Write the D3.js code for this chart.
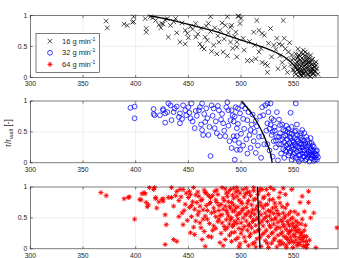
<!DOCTYPE html>
<html>
<head>
<meta charset="utf-8">
<script src="https://cdn.jsdelivr.net/npm/d3@7"></script>
<style>
  body { margin: 0; background: #fff; }
  text { font-family: "Liberation Sans", Arial, sans-serif; fill: #262626; }
</style>
</head>
<body>
<div id="chart"></div>
<script>
// axis settings
var xTicks = [300, 350, 400, 450, 500, 550];
var yTicks = [0, 0.5, 1];
var yTickLabels = ["0", "0.5", "1"];
var legendLabels = ["16 g min", "32 g min", "64 g min"];

// scatter points [x, r/rwall]
var pts16 = [[372,0.91],[373,0.8],[389,0.86],[392,0.84],[397,0.89],[398,0.98],[398,0.9],[409,0.95],[410,0.79],[410,0.73],[414,0.98],[416,0.96],[419,0.92],[422,0.85],[424,0.8],[425,0.87],[426,0.86],[428,0.93],[430,0.95],[431,0.65],[433,0.84],[436,0.9],[438,0.95],[439,0.72],[442,0.57],[444,0.88],[447,0.54],[447,0.76],[449,0.71],[450,0.64],[452,0.82],[454,0.78],[457,0.87],[457,0.65],[459,0.7],[461,0.54],[462,0.79],[463,0.49],[465,0.46],[466,0.65],[467,0.83],[468,0.6],[469,0.87],[471,0.98],[471,0.74],[472,0.42],[474,0.52],[475,0.8],[477,0.38],[478,0.67],[479,0.57],[480,0.76],[482,0.88],[483,0.41],[484,0.62],[485,0.84],[487,0.98],[487,0.35],[488,0.72],[490,0.81],[490,0.57],[491,0.84],[492,0.47],[494,0.66],[495,0.73],[496,0.49],[496,0.57],[496,0.33],[497,0.99],[498,0.99],[499,0.87],[500,0.95],[502,0.63],[503,0.44],[506,0.27],[508,0.58],[510,0.27],[512,0.73],[513,0.52],[514,0.3],[515,0.92],[517,0.76],[517,0.41],[519,0.47],[520,0.71],[520,0.24],[522,0.68],[523,0.22],[525,0.19],[525,0.08],[526,0.55],[528,0.79],[529,0.33],[531,0.52],[533,0.45],[534,0.63],[535,0.14],[536,0.54],[537,0.35],[539,0.52],[539,0.24],[540,0.92],[541,0.63],[541,0.16],[542,0.46],[543,0.3],[544,0.08],[545,0.41],[546,0.56],[547,0.2],[548,0.36],[549,0.12],
  [550,0.3],[551,0.18],[552,0.05],[552,0.38],[553,0.25],[553,0.12],[554,0.33],[554,0.02],[555,0.2],[555,0.08],[556,0.28],[556,0.15],[557,0.4],[557,0.04],[558,0.22],[558,0.11],[558,0.31],[559,0.17],[559,0.06],[560,0.26],[560,0.13],[560,0.35],[561,0.02],[561,0.2],[562,0.09],[562,0.29],[562,0.15],[563,0.23],[563,0.05],[564,0.12],[564,0.32],[565,0.18],[565,0.08],[566,0.25],[566,0.01],[567,0.14],[567,0.21],[568,0.06],[568,0.29],[569,0.11],[569,0.17],[570,0.03],[570,0.22],[571,0.09],[572,0.14],[573,0.05],[563,0.38],[559,0.44],[566,0.36],[554,0.46],[561,0.27],[557,0.18],[555,0.36],[564,0.24],[567,0.1],[560,0.07],[556,0.1],[553,0.19],[551,0.08],[570,0.16],[571,0.25],[565,0.3],[558,0.02],[562,0.21],[568,0.2],
  [552,0.22],[553,0.31],[555,0.14],[556,0.34],[557,0.26],[558,0.08],[559,0.24],[560,0.18],[561,0.1],[562,0.33],[563,0.16],[564,0.04],[565,0.23],[566,0.13],[567,0.28],[568,0.14],[569,0.06],[570,0.1],[559,0.38],[561,0.41],[557,0.1],[563,0.28],[565,0.02],[566,0.08],[571,0.19],[554,0.26],[550,0.12],[548,0.28]];

var pts32 = [[395,0.89],[399,0.91],[399,0.72],[417,0.87],[417,0.79],[418,0.77],[423,0.77],[426,0.87],[426,0.85],[428,0.8],[428,0.65],[430,0.82],[431,0.96],[433,0.93],[434,0.69],[436,0.82],[437,0.88],[439,0.91],[441,0.74],[442,0.64],[442,0.8],[444,0.71],[445,0.93],[447,0.85],[448,0.77],[450,0.9],[451,0.81],[452,0.72],[453,0.96],[454,0.67],[456,0.56],[457,0.84],[458,0.76],[460,0.85],[461,0.9],[462,0.62],[463,0.96],[463,0.53],[464,0.45],[465,0.79],[466,0.66],[467,0.88],[468,0.72],[469,0.45],[470,0.58],[471,0.11],[472,0.93],[473,0.76],[474,0.88],[475,0.56],[476,0.67],[477,0.48],[478,0.92],[479,0.85],[480,0.43],[481,0.7],[482,0.79],[483,0.64],[484,0.52],[485,0.43],[486,0.9],[487,0.98],[488,0.85],[488,0.6],[489,0.35],[490,0.69],[491,0.24],[491,0.85],[492,0.77],[493,0.43],[493,0.67],[494,0.37],[494,0.75],[494,0.05],[495,0.9],[496,0.56],[496,0.21],[496,0.43],[497,0.88],[497,0.63],[498,0.32],[499,0.21],[499,0.8],[500,0.47],[501,0.92],[502,0.71],[502,0.28],[503,0.55],[504,0.88],[505,0.38],[506,0.69],[506,0.15],[507,0.82],[508,0.45],[509,0.53],[509,0.24],[510,0.62],[511,0.78],[512,0.35],[513,0.5],[514,0.16],[514,0.68],[515,0.59],[516,0.28],[517,0.42],[518,0.75],[519,0.08],[520,0.43],[520,0.9],[521,0.77],[522,0.3],[523,0.93],[524,0.52],[525,0.64],[525,0.96],[526,0.82],[527,0.2],[528,0.96],[529,0.72],[529,0.45],[530,0.1],[531,0.69],[531,0.35],[532,0.52],[533,0.25],[534,0.82],[534,0.42],[535,0.04],[536,0.3],[537,0.61],[537,0.48],[538,0.15],[539,0.38],[540,0.22],[540,0.53],[541,0.33],[541,0.08],[542,0.44],[543,0.18],[543,0.28],[544,0.5],[544,0.38],[545,0.12],[545,0.24],[546,0.42],[546,0.32],[547,0.81],[547,0.19],[548,0.05],[548,0.47],[549,0.28],[549,0.36],[550,0.14],[550,0.22],[551,0.4],[551,0.3],[552,0.96],[552,0.08],[553,0.18],[553,0.45],[554,0.26],[554,0.35],[555,0.12],[555,0.02],[556,0.32],[556,0.2],[557,0.4],[557,0.06],[558,0.53],[558,0.25],[558,0.15],[559,0.3],[559,0.1],[560,0.2],[560,0.36],[561,0.04],[561,0.27],[562,0.14],[562,0.22],[563,0.37],[563,0.09],[564,0.18],[564,0.28],[565,0.02],[565,0.12],[566,0.24],[566,0.16],[567,0.32],[567,0.07],[568,0.2],[568,0.11],[569,0.26],[569,0.03],[570,0.15],[570,0.09],[571,0.19],[572,0.13],[572,0.05],[573,0.09],[539,0.62],[536,0.7],[543,0.6],[548,0.58],[553,0.62],[560,0.48],[545,0.55],[551,0.5],[556,0.44],[562,0.42],[566,0.4],[532,0.58],[528,0.62],[525,0.3],[527,0.55],
  [538,0.3],[540,0.42],[542,0.2],[544,0.3],[546,0.16],[547,0.4],[548,0.24],[549,0.1],[550,0.33],[551,0.16],[552,0.27],[553,0.38],[554,0.06],[555,0.24],[556,0.13],[557,0.3],[558,0.36],[559,0.2],[560,0.1],[561,0.32],[562,0.06],[563,0.26],[564,0.14],[565,0.32],[566,0.2],[567,0.12],[568,0.28],[569,0.18],[570,0.05],[571,0.12],[572,0.2],[546,0.48],[552,0.52],[557,0.48],[542,0.52],[536,0.42],[533,0.36],[530,0.5]];

var pts64 = [[367,0.91],[372,0.86],[389,0.81],[393,0.83],[394,0.84],[399,0.48],[404,0.8],[405,0.79],[406,0.89],[408,0.91],[409,0.89],[410,0.75],[411,0.68],[412,0.71],[413,0.99],[417,0.96],[418,0.99],[419,0.81],[419,0.83],[420,0.66],[422,0.76],[425,0.8],[426,0.81],[426,0.77],[428,0.55],[428,0.07],[429,0.39],[431,0.83],[434,0.99],[434,0.83],[436,0.69],[436,0.15],[438,0.86],[439,0.93],[439,0.12],[441,0.78],[442,0.96],[444,0.58],[445,0.96],[445,0.39],[447,0.72],[448,0.9],[450,0.83],[451,0.67],[452,0.26],[452,0.88],[453,0.52],[454,0.76],[455,0.99],[456,0.23],[456,0.64],[457,0.45],[458,0.75],[459,0.92],[460,0.85],[460,0.6],[461,0.69],[462,0.34],[463,0.15],[463,0.8],[464,0.48],[465,0.95],[466,0.53],[466,0.91],[467,0.7],[468,0.62],[469,0.2],[469,0.86],[470,0.41],[471,0.83],[471,0.75],[472,0.58],[473,0.3],[474,0.37],[474,0.66],[475,0.93],[476,0.79],[476,0.52],[477,0.75],[478,0.88],[478,0.44],[479,0.48],[479,0.62],[480,0.1],[481,0.72],[482,0.99],[482,0.55],[483,0.64],[483,0.82],[484,0.36],[485,0.31],[485,0.69],[486,0.9],[486,0.47],[487,0.85],[487,0.58],[488,0.53],[488,0.76],[489,0.4],[489,0.22],[490,0.96],[490,0.66],[491,0.75],[491,0.26],[491,0.5],[492,0.87],[492,0.61],[493,0.39],[493,0.71],[494,0.61],[494,0.44],[495,0.92],[495,0.15],[496,0.85],[496,0.54],[496,0.99],[497,0.18],[497,0.48],[497,0.68],[498,0.33],[498,0.79],[499,0.58],[499,0.9],[500,0.42],[500,0.25],[501,0.73],[501,0.62],[502,0.96],[502,0.5],[503,0.36],[503,0.84],[504,0.56],[504,0.12],[505,0.67],[505,0.45],[506,0.91],[506,0.3],[507,0.78],[507,0.6],[508,0.4],[508,0.2],[509,0.86],[509,0.52],[510,0.71],[510,0.34],[511,0.63],[511,0.08],[512,0.94],[512,0.47],[513,0.56],[513,0.27],[514,0.81],[514,0.38],[515,0.69],[515,0.16],[516,0.5],[516,0.88],[517,0.6],[517,0.31],[518,0.75],[518,0.42],[519,0.04],[519,0.55],[520,0.96],[520,0.23],[521,0.66],[521,0.37],[522,0.84],[522,0.49],[523,0.58],[523,0.13],[524,0.96],[524,0.3],[525,0.72],[525,0.44],[526,0.62],[526,0.2],[527,0.53],[527,0.79],[528,0.99],[528,0.35],[529,0.47],[529,0.09],[530,0.66],[530,0.26],[531,0.57],[531,0.4],[532,0.74],[532,0.17],[533,0.5],[533,0.31],[534,0.62],[534,0.03],[535,0.43],[535,0.22],[536,0.83],[536,0.55],[537,0.91],[537,0.34],[538,0.47],[538,0.12],[539,0.68],[539,0.27],[540,0.58],[540,0.39],[541,0.2],[541,0.5],[542,0.88],[542,0.66],[543,0.31],[543,0.06],[544,0.44],[544,0.15],[545,0.56],[545,0.25],[546,0.37],[546,0.1],[547,0.48],[547,0.19],[548,0.96],[548,0.3],[549,0.41],[549,0.02],[550,0.1],[550,0.23],[551,0.6],[551,0.34],[552,0.14],[552,0.45],[553,0.37],[553,0.27],[554,0.56],[554,0.08],[555,0.18],[555,0.31],[556,0.07],[556,0.75],[557,0.22],[557,0.4],[558,0.26],[558,0.85],[559,0.18],[559,0.12],[560,0.3],[561,0.05],[562,0.2],[563,0.07],[564,0.93],[564,0.75],[565,0.14],[566,0.5],[569,0.58],[571,0.02],[591,0.34],
  [466,0.04],[483,0.05],[498,0.03],[507,0.05],[526,0.02],[543,0.02],[537,0.07],[514,0.03],[485,0.97],[493,0.98],[505,0.98],[512,0.99],[518,0.97],[531,0.96],[540,0.98],
  [441,0.52],[443,0.84],[446,0.62],[449,0.46],[451,0.93],[453,0.7],[455,0.35],[457,0.87],[459,0.55],[461,0.42],[462,0.78],[464,0.63],[465,0.28],[467,0.9],[468,0.48],[470,0.73],[472,0.19],[473,0.86],[475,0.6],[476,0.33],[477,0.95],[479,0.7],[480,0.54],[481,0.25],[482,0.42],[484,0.78],[485,0.15],[486,0.62],[487,0.34],[488,0.92],[489,0.68],[490,0.47],[491,0.12],[492,0.36],[493,0.82],[494,0.27],[495,0.66],[496,0.41],[497,0.94],[498,0.57],[499,0.08],[500,0.76],[501,0.31],[502,0.65],[503,0.19],[504,0.89],[505,0.55],[506,0.74],[507,0.38],[508,0.92],[509,0.24],[510,0.58],[511,0.44],[512,0.79],[513,0.1],[514,0.64],[515,0.48],[516,0.29],[517,0.93],[518,0.18],[519,0.7],[520,0.45],[521,0.82],[522,0.26],[523,0.71],[524,0.52],[525,0.09],[526,0.88],[527,0.38],[528,0.6],[529,0.25],[530,0.8],[531,0.14],[532,0.48],[533,0.68],[534,0.35],[535,0.57],[536,0.12],[537,0.74],[538,0.24],[539,0.44],[540,0.08],[541,0.36],[542,0.53],[543,0.18],[544,0.72],[545,0.4],[546,0.28],[547,0.6],[548,0.13],[549,0.5],[550,0.36],[551,0.2],[552,0.3],[553,0.05],[554,0.42],[555,0.1],[556,0.26],[557,0.15],[558,0.48],[559,0.04],[560,0.2],[561,0.38],[562,0.12],[560,0.6],[562,0.02]];

// model curves [x, r/rwall]
var curve16 = [[412,1],[433,0.93],[458,0.82],[480,0.72],[500,0.6],[515,0.52],[528,0.44],[538,0.36],[545,0.28],[550,0.2],[555,0.09],[557,0.03],[558,0]];
var curve32 = [[500.5,1],[510,0.8],[517,0.6],[520,0.5],[525,0.3],[528,0.15],[529.5,0]];
var curve64 = [[515.5,1],[518,0]];

var w = 339, h = 258;
var left = 30.3, right = 338;
var tops = [15.5, 101, 187];
var ph = 61.8;

var svg = d3.select("#chart")
            .append("svg")
            .attr("width", w)
            .attr("height", h);

var x = d3.scaleLinear().domain([300, 592]).range([left, right]);

function xMark(g, s, col) {
    g.append("path")
        .attr("d", "M" + (-s) + "," + (-s) + "L" + s + "," + s + "M" + (-s) + "," + s + "L" + s + "," + (-s))
        .attr("stroke", col).attr("stroke-width", 0.7).attr("fill", "none");
}
function oMark(g, s, col) {
    g.append("circle").attr("r", s)
        .attr("stroke", col).attr("stroke-width", 0.75).attr("fill", "none");
}
function starMark(g, s, col) {
    var d = s * 0.72;
    g.append("path")
        .attr("d", "M" + (-s) + ",0L" + s + ",0M0," + (-s) + "L0," + s +
                   "M" + (-d) + "," + (-d) + "L" + d + "," + d + "M" + (-d) + "," + d + "L" + d + "," + (-d))
        .attr("stroke", col).attr("stroke-width", 0.9).attr("fill", "none");
}

var panels = [
    { pts: pts16, curve: curve16, mark: xMark, col: "#000000", size: 2.3 },
    { pts: pts32, curve: curve32, mark: oMark, col: "#0000ff", size: 2.4 },
    { pts: pts64, curve: curve64, mark: starMark, col: "#ff0000", size: 2.5 }
];

panels.forEach(function(p, i) {
    var top = tops[i];
    var y = d3.scaleLinear().domain([0, 1]).range([top + ph, top]);
    var g = svg.append("g");

    // grid
    g.selectAll(".gx").data(xTicks.slice(1)).enter().append("line")
        .attr("x1", function(d) { return x(d); }).attr("x2", function(d) { return x(d); })
        .attr("y1", top).attr("y2", top + ph)
        .attr("stroke", "#e3e3e3").attr("stroke-width", 0.6);
    g.append("line")
        .attr("x1", left).attr("x2", right)
        .attr("y1", y(0.5)).attr("y2", y(0.5))
        .attr("stroke", "#e3e3e3").attr("stroke-width", 0.6);

    // points
    g.selectAll(".pt").data(p.pts).enter().append("g")
        .attr("transform", function(d) { return "translate(" + x(d[0]) + "," + y(d[1]) + ")"; })
        .each(function() { p.mark(d3.select(this), p.size, p.col); });

    // curve
    g.append("path")
        .datum(p.curve)
        .attr("d", d3.line()
            .x(function(d) { return x(d[0]); })
            .y(function(d) { return y(d[1]); })
            .curve(d3.curveCatmullRom))
        .attr("fill", "none")
        .attr("stroke", "#000")
        .attr("stroke-width", 1.3);

    // box
    g.append("rect")
        .attr("x", left).attr("y", top)
        .attr("width", right - left).attr("height", ph)
        .attr("fill", "none").attr("stroke", "#262626").attr("stroke-width", 0.6);

    // ticks
    g.selectAll(".tx").data(xTicks).enter().append("line")
        .attr("x1", function(d) { return x(d); }).attr("x2", function(d) { return x(d); })
        .attr("y1", top + ph).attr("y2", top + ph - 2.5)
        .attr("stroke", "#262626").attr("stroke-width", 0.6);
    g.selectAll(".tx2").data(xTicks).enter().append("line")
        .attr("x1", function(d) { return x(d); }).attr("x2", function(d) { return x(d); })
        .attr("y1", top).attr("y2", top + 2.5)
        .attr("stroke", "#262626").attr("stroke-width", 0.6);
    g.selectAll(".ty").data(yTicks).enter().append("line")
        .attr("x1", left).attr("x2", left + 2.5)
        .attr("y1", function(d) { return y(d); }).attr("y2", function(d) { return y(d); })
        .attr("stroke", "#262626").attr("stroke-width", 0.6);

    g.selectAll(".lx").data(xTicks).enter().append("text")
        .text(function(d) { return d; })
        .attr("x", function(d) { return x(d); })
        .attr("y", top + ph + 9)
        .attr("text-anchor", "middle")
        .attr("font-size", "6.8px");
    g.selectAll(".ly").data(yTicks).enter().append("text")
        .text(function(d, j) { return yTickLabels[j]; })
        .attr("x", left - 3)
        .attr("y", function(d) { return y(d) + 2.4; })
        .attr("text-anchor", "end")
        .attr("font-size", "6.8px");
});

// y label
var yl = svg.append("text")
    .attr("transform", "translate(11,133) rotate(-90)")
    .attr("text-anchor", "middle")
    .attr("font-size", "8.2px");
yl.append("tspan").text("r/r");
yl.append("tspan").attr("dy", 2.2).attr("font-size", "6px").text("wall");
yl.append("tspan").attr("dy", -2.2).text(" [-]");

// legend
var lg = svg.append("g");
lg.append("rect")
    .attr("x", 36).attr("y", 33.3)
    .attr("width", 63.3).attr("height", 39)
    .attr("fill", "#fff").attr("stroke", "#262626").attr("stroke-width", 0.6);
var lyPos = [41.2, 52.8, 64.4];
panels.forEach(function(p, i) {
    var m = lg.append("g").attr("transform", "translate(50," + lyPos[i] + ")");
    p.mark(m, p.size, p.col);
    var t = lg.append("text")
        .attr("x", 62).attr("y", lyPos[i] + 2.6)
        .attr("font-size", "7.5px");
    t.append("tspan").text(legendLabels[i]);
    t.append("tspan").attr("dy", -3).attr("font-size", "5px").text("-1");
});
</script>
</body>
</html>
